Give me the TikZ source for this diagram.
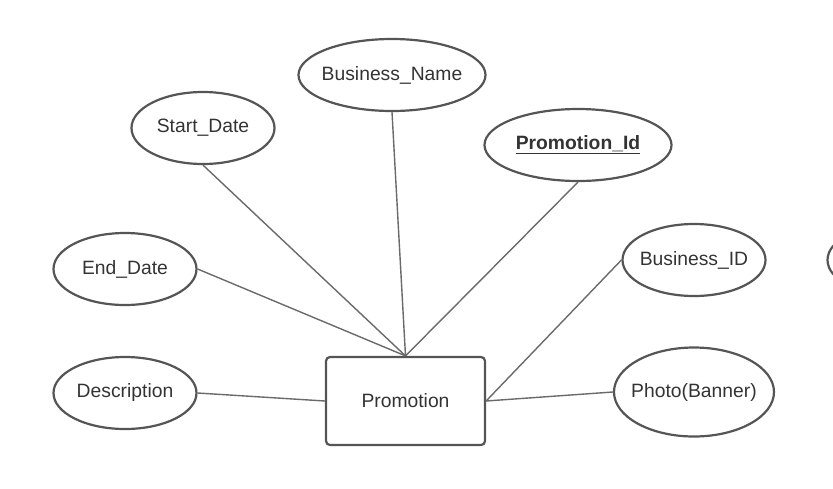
\documentclass[tikz,border=0pt]{standalone}
\usepackage{fontspec}
\setmainfont{Liberation Sans}
\usetikzlibrary{shapes.geometric}
\definecolor{inkgray}{HTML}{333333}
\definecolor{edgegray}{HTML}{555555}
\definecolor{linkgray}{HTML}{6A6A6A}
\tikzset{
  attr/.style={ellipse,draw=edgegray,line width=2.2pt,text=inkgray,inner xsep=-8pt,inner ysep=0pt,
    minimum width=143pt,minimum height=72pt,font=\fontsize{19.3}{23}\selectfont},
  entity/.style={rectangle,draw=edgegray,line width=2.2pt,rounded corners=4pt,text=inkgray,
    minimum width=159pt,minimum height=88pt,font=\fontsize{19.3}{23}\selectfont},
  link/.style={draw=linkgray,line width=1.4pt}
}

\begin{document}
\begin{tikzpicture}[x=1pt,y=1pt]
            \useasboundingbox (0,0) rectangle (833,-488);
            \clip (0,0) rectangle (833,-488);
            % entity
            \node[entity] (prom) at (405.5,-401) {Promotion};
            % attributes
            \node[attr] (desc) at (125,-393) {Description};
            \node[attr] (enddate) at (125,-269) {End\_Date};
            \node[attr] (startdate) at (203,-128) {Start\_Date};
            \node[attr,minimum width=187pt] (bname) at (392,-75) {Business\_Name};
            \node[attr,minimum width=187pt] (promid) at (578,-145) {\textbf{\underline{Promotion\_Id}}};
            \node[attr] (bid) at (694,-260) {Business\_ID};
            \node[attr,minimum width=160pt,minimum height=89pt] (photo) at (694,-392) {Photo(Banner)};
            \node[attr] (cutoff) at (899,-260) {};
            % links
            \draw[link] (desc.east) -- (prom.west);
            \draw[link] (enddate.east) -- (prom.north);
            \draw[link] (startdate.south) -- (prom.north);
            \draw[link] (bname.south) -- (prom.north);
            \draw[link] (promid.south) -- (prom.north);
            \draw[link] (bid.west) -- (prom.east);
            \draw[link] (photo.west) -- (prom.east);
        \end{tikzpicture}
\end{document}
